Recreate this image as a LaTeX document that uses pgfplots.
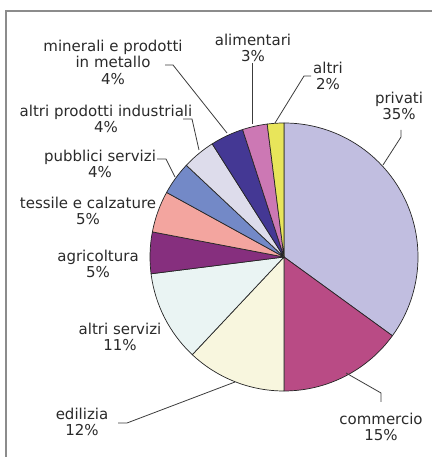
\documentclass[border=0pt]{standalone}
\usepackage{pgfplots}
\usepackage{pgfplotstable}
\pgfplotsset{compat=1.18}
\usepackage{fontspec}
\setmainfont{DejaVu Sans}
\definecolor{cPriv}{HTML}{C1BEE0}
\definecolor{cComm}{HTML}{B94B85}
\definecolor{cEdil}{HTML}{F8F6DE}
\definecolor{cAser}{HTML}{EAF4F3}
\definecolor{cAgri}{HTML}{862F7E}
\definecolor{cTess}{HTML}{F3A59F}
\definecolor{cPubb}{HTML}{7389C7}
\definecolor{cApin}{HTML}{DDDCEB}
\definecolor{cMine}{HTML}{443894}
\definecolor{cAlim}{HTML}{CC78B4}
\definecolor{cAltr}{HTML}{E8E55A}
\definecolor{txt}{HTML}{2A2A2A}
\definecolor{lead}{HTML}{3C3C3C}
\tikzset{lab/.style={font=\fontsize{15}{16.5}\selectfont, align=center, text=txt, inner sep=0pt}}
\pgfplotstableread{
value col
35 cPriv
15 cComm
12 cEdil
11 cAser
5 cAgri
5 cTess
4 cPubb
4 cApin
4 cMine
3 cAlim
2 cAltr
}\pietable
\begin{document}
\begin{tikzpicture}
\useasboundingbox (0,0) rectangle (432pt,457pt);
\begin{axis}[
  at={(0,0)}, anchor=south west,
  x=1pt, y=1pt,
  xmin=0, xmax=432, ymin=0, ymax=457,
  hide axis, clip=false,
]
% frame
\draw[gray!90, line width=2pt] (axis cs:6,0) -- (axis cs:6,446) -- (axis cs:432,446);
% pie slices from table
\pgfplotstablegetrowsof{\pietable}
\pgfmathtruncatemacro{\Nrows}{\pgfplotsretval-1}
\def\cum{0}
\pgfplotsforeachungrouped \i in {0,...,\Nrows}{%
  \pgfplotstablegetelem{\i}{value}\of\pietable
  \let\sliceval=\pgfplotsretval
  \pgfplotstablegetelem{\i}{col}\of\pietable
  \let\slicecol=\pgfplotsretval
  \pgfmathsetmacro{\angA}{90-3.6*\cum}
  \pgfmathsetmacro{\angB}{90-3.6*(\cum+\sliceval)}
  \edef\temp{\noexpand\filldraw[fill=\slicecol, draw=black!85, line width=0.7pt, line join=round] (axis cs:284,200) -- ++(\angA:134pt) arc[start angle=\angA, end angle=\angB, radius=134pt] -- cycle;}
  \temp
  \pgfmathsetmacro{\cum}{\cum+\sliceval}
}
% leader lines
\draw[lead, line width=0.8pt] (axis cs:165,392) -- (axis cs:173,392) -- (axis cs:227,324);
\draw[lead, line width=0.8pt] (axis cs:183,338) -- (axis cs:192,338) -- (axis cs:199,307);
\draw[lead, line width=0.8pt] (axis cs:157,298) -- (axis cs:166,298) -- (axis cs:175,280);
\draw[lead, line width=0.8pt] (axis cs:311,381) -- (axis cs:304,381) -- (axis cs:275,334);
\draw[lead, line width=0.8pt] (axis cs:252,394) -- (axis cs:252,333);
\draw[lead, line width=0.8pt] (axis cs:401,327) -- (axis cs:401,320) -- (axis cs:383,292);
\draw[lead, line width=0.8pt] (axis cs:381,55) -- (axis cs:381,64) -- (axis cs:346,84);
\draw[lead, line width=0.8pt] (axis cs:118,34) -- (axis cs:127,34) -- (axis cs:235,75);
% labels
\node[lab] at (axis cs:113,395) {minerali e prodotti\\in metallo\\4\%};
\node[lab] at (axis cs:106,338) {altri prodotti industriali\\4\%};
\node[lab] at (axis cs:100,293) {pubblici servizi\\4\%};
\node[lab] at (axis cs:88,246) {tessile e calzature\\5\%};
\node[lab] at (axis cs:98,193) {agricoltura\\5\%};
\node[lab] at (axis cs:120,120) {altri servizi\\11\%};
\node[lab] at (axis cs:82,35) {edilizia\\12\%};
\node[lab] at (axis cs:381,30) {commercio\\15\%};
\node[lab] at (axis cs:399,351) {privati\\35\%};
\node[lab] at (axis cs:328,381) {altri\\2\%};
\node[lab] at (axis cs:253,409) {alimentari\\3\%};
\end{axis}
\end{tikzpicture}
\end{document}
